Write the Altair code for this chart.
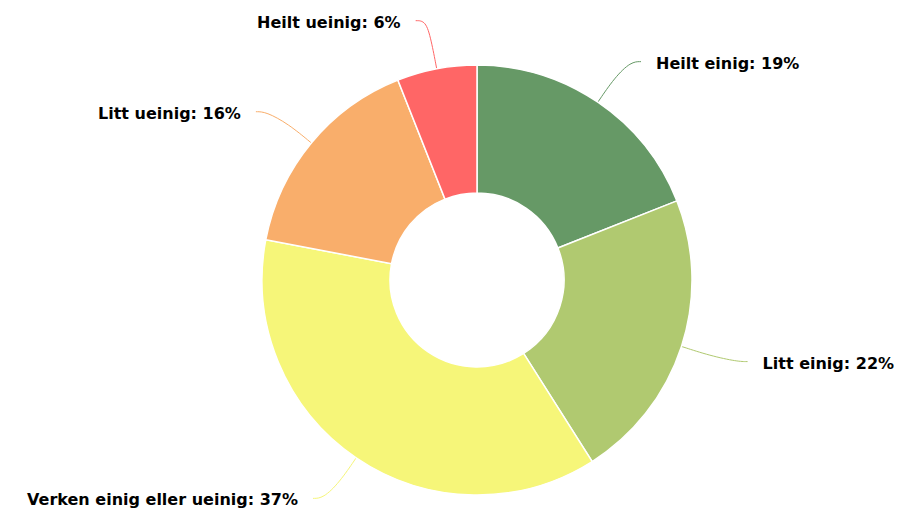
import altair as alt
import pandas as pd
import numpy as np

categories = ["Heilt einig", "Litt einig", "Verken einig eller ueinig", "Litt ueinig", "Heilt ueinig"]
values = [19, 22, 37, 16, 6]
colors = ["#669966", "#b0c970", "#f6f679", "#f9ae6b", "#ff6666"]

W, H = 886, 502
CX, CY = 469, 272
R_OUT, R_IN = 215, 87
RX_END, RY_END = 274, 264

df = pd.DataFrame({"cat": categories, "val": values, "order": list(range(len(values)))})
df["label"] = df["cat"] + ": " + df["val"].astype(str) + "%"
total = df["val"].sum()
mid = ((df["val"].cumsum() - df["val"] / 2) / total * 2 * np.pi).to_numpy()
side = np.where(np.sin(mid) >= 0, 1, -1)

rows = []
for k, c in enumerate(categories):
    s, co = np.sin(mid[k]), np.cos(mid[k])
    ex, ey = CX + RX_END * s, CY - RY_END * co
    pts = [
        (CX + R_OUT * s, CY - R_OUT * co),
        (CX + (R_OUT + 30) * s, CY - (R_OUT + 30) * co),
        (ex, ey),
        (ex + 10 * side[k], ey),
    ]
    for i, (px, py) in enumerate(pts):
        rows.append({"cat": c, "i": i, "px": px, "py": py})
lines = pd.DataFrame(rows)

lab = df.copy()
lab["px"] = CX + RX_END * np.sin(mid) + 25 * side
lab["py"] = CY - RY_END * np.cos(mid) + 2
lab["side"] = side

xs = alt.Scale(domain=[0, W], range=[0, W], nice=False, zero=False)
ys = alt.Scale(domain=[0, H], range=[0, H], nice=False, zero=False)
cs = alt.Scale(domain=categories, range=colors)

arcs = alt.Chart(df).mark_arc(
    outerRadius=R_OUT, innerRadius=R_IN, stroke="white", strokeWidth=1.5
).encode(
    theta=alt.Theta("val:Q", stack=True),
    order=alt.Order("order:Q"),
    color=alt.Color("cat:N", scale=cs, legend=None),
    x=alt.value(CX),
    y=alt.value(CY),
)

conn = alt.Chart(lines).mark_line(interpolate="basis", strokeWidth=1).encode(
    x=alt.X("px:Q", scale=xs, axis=None),
    y=alt.Y("py:Q", scale=ys, axis=None),
    detail="cat:N",
    order=alt.Order("i:Q"),
    color=alt.Color("cat:N", scale=cs, legend=None),
)

txt_style = dict(font="DejaVu Sans", fontSize=16, fontWeight="bold", color="#000000", baseline="middle")
right = alt.Chart(lab).transform_filter("datum.side > 0").mark_text(align="left", **txt_style).encode(
    x=alt.X("px:Q", scale=xs, axis=None), y=alt.Y("py:Q", scale=ys, axis=None), text="label:N"
)
left = alt.Chart(lab).transform_filter("datum.side < 0").mark_text(align="right", **txt_style).encode(
    x=alt.X("px:Q", scale=xs, axis=None), y=alt.Y("py:Q", scale=ys, axis=None), text="label:N"
)

chart = alt.layer(conn, arcs, right, left).properties(
    width=W, height=H, padding=0, autosize=alt.AutoSizeParams(type="none")
).configure_view(stroke=None)

chart.save("out.html", embed_options={"renderer": "svg", "actions": False})
